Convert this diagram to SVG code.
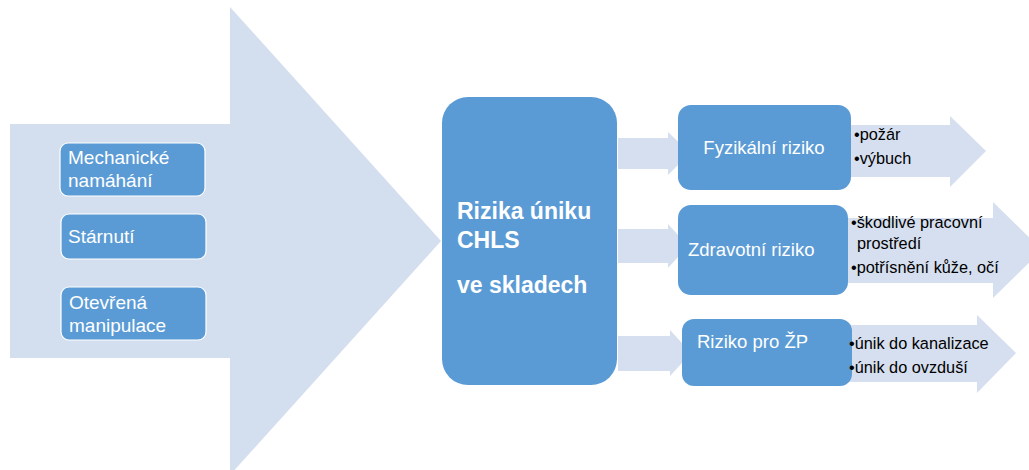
<svg xmlns="http://www.w3.org/2000/svg" width="1029" height="470" viewBox="0 0 1029 470">
<style>
.big{fill:#D3DEEF}
.arr{fill:#D5DFEF}
.box{fill:#5B9BD5}
.sbox{fill:#5B9BD5;stroke:#FFFFFF;stroke-width:1.2}
.wt{font-family:"Liberation Sans",Arial,sans-serif;fill:#FFFFFF}
.bt{font-family:"Liberation Sans",Arial,sans-serif;fill:#000000;font-size:16.3px}
</style>
<rect width="1029" height="470" fill="#FFFFFF"/>
<g id="connectors">
<polygon class="big" points="10,124 230,124 230,7 441,241 230,475 230,358 10,358"/>
<polygon class="arr" points="618,138 668,138 668,132 690,153 668,175 668,169 618,169"/>
<polygon class="arr" points="618,229 668,229 668,224 688,246 668,268 668,263 618,263"/>
<polygon class="arr" points="618,336 670,336 670,330 691,353 670,376 670,371 618,371"/>
<polygon class="arr" points="845,125 950,125 950,116 986,151 950,187 950,177 845,177"/>
<polygon class="arr" points="845,218 993,218 993,202 1042,250 993,298 993,283 845,283"/>
<polygon class="arr" points="845,325 977,325 977,315 1016,353 977,393 977,382 845,382"/>
</g>
<g id="mechanicke">
<rect class="sbox" x="60" y="143" width="145" height="53" rx="8"/>
<text class="wt" x="68" y="164" font-size="19">Mechanické</text>
<text class="wt" x="68" y="187" font-size="19">namáhání</text>
</g>
<g id="starnuti">
<rect class="sbox" x="61" y="214" width="145" height="45" rx="8"/>
<text class="wt" x="68" y="243" font-size="19">Stárnutí</text>
</g>
<g id="otevrena">
<rect class="sbox" x="61" y="287" width="145" height="53" rx="8"/>
<text class="wt" x="69" y="309" font-size="19">Otevřená</text>
<text class="wt" x="69" y="332" font-size="19">manipulace</text>
</g>
<g id="center">
<rect class="box" x="442" y="97" width="175" height="288" rx="26"/>
<text class="wt" x="457" y="219" font-size="23" font-weight="bold">Rizika úniku</text>
<text class="wt" x="457" y="248" font-size="23" font-weight="bold">CHLS</text>
<text class="wt" x="457" y="293" font-size="23" font-weight="bold">ve skladech</text>
</g>
<g id="fyzikalni">
<rect class="box" x="678" y="105" width="173" height="85" rx="13"/>
<text class="wt" x="764" y="154" font-size="18.5" text-anchor="middle">Fyzikální riziko</text>
</g>
<g id="zdravotni">
<rect class="box" x="678" y="205" width="170" height="90" rx="13"/>
<text class="wt" x="688" y="256" font-size="18.5">Zdravotní riziko</text>
</g>
<g id="zp">
<rect class="box" x="682" y="319" width="170" height="67" rx="12"/>
<text class="wt" x="697" y="348" font-size="18.5">Riziko pro ŽP</text>
</g>
<g id="bullets1">
<text class="bt" x="854" y="140">•požár</text>
<text class="bt" x="854" y="164">•výbuch</text>
</g>
<g id="bullets2">
<text class="bt" x="851" y="228">•škodlivé pracovní</text>
<text class="bt" x="857" y="249">prostředí</text>
<text class="bt" x="851" y="273">•potřísnění kůže, očí</text>
</g>
<g id="bullets3">
<text class="bt" x="849" y="349">•únik do kanalizace</text>
<text class="bt" x="849" y="373">•únik do ovzduší</text>
</g>
</svg>
